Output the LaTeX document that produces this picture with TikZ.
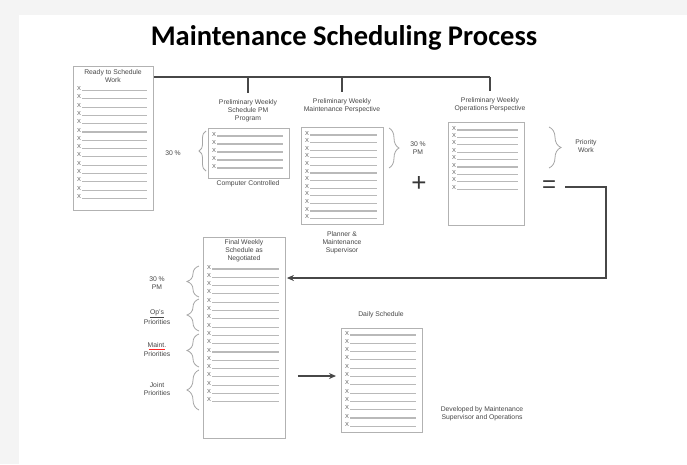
\documentclass[tikz,border=0pt]{standalone}
\usepackage{fontspec}
\setmainfont{Liberation Sans}
\newfontfamily\titlefont{Carlito}
\usetikzlibrary{decorations.pathreplacing,arrows.meta}
\tikzset{
  sheet/.style={draw=gray!60, line width=0.9pt, fill=white, inner sep=0pt, anchor=north west},
  lbl/.style={font=\fontsize{6.8}{7.9}\selectfont, text=black!72, align=center, inner sep=0pt},
  xrow/.style={draw=gray!55, line width=1.1pt},
  xmark/.style={font=\fontsize{5.8}{6}\selectfont, text=black!65, inner sep=0pt, anchor=base west},
  link/.style={draw=black!72, line width=1.8pt},
  curly/.style={draw=gray!70, line width=0.8pt, decorate, decoration={brace, amplitude=#1}},
  curly/.default=7pt,
  sym/.style={inner sep=0pt, text=black!78}
}
\newcommand\xrows[5]{%
  \foreach \i in {1,...,#5}{%
    \pgfmathsetmacro\yy{#3+(\i-1)*#4}
    \node[xmark] at (#1+4,\yy) {X};
    \draw[xrow] (#1+9,\yy) -- (#2-6,\yy);
  }}
\begin{document}
\begin{tikzpicture}[x=1pt,y=-1pt]
\useasboundingbox (0,0) rectangle (687,464);
\fill[gray!9] (0,0) rectangle (687,464);
\fill[white] (19,15) rectangle (687,464);

% title
\node[inner sep=0pt, font=\titlefont\bfseries\fontsize{28.5}{30}\selectfont] (title) at (344,38) {Maintenance Scheduling Process};

% box 1
\node[sheet, minimum width=80pt, minimum height=144pt] (b1) at (73,66) {};
\node[lbl] (t1) at (113,76) {Ready to Schedule\\Work};
\xrows{73}{153}{90.5}{8.3}{14}

% box 2
\node[sheet, minimum width=81pt, minimum height=50pt] (b2) at (208,128) {};
\node[lbl] (t2) at (248,111) {Preliminary Weekly\\Schedule PM\\Program};
\node[lbl] (s2) at (248,184) {Computer Controlled};
\xrows{208}{289}{136}{8}{5}
\node[lbl] (p2) at (173,153) {30 \%};
\draw[curly=7pt] (206,171) -- (206,131);

% box 3
\node[sheet, minimum width=82pt, minimum height=97pt] (b3) at (301,127) {};
\node[lbl] (t3) at (342,106) {Preliminary Weekly\\Maintenance Perspective};
\node[lbl] (s3) at (342,243) {Planner \&\\Maintenance\\Supervisor};
\xrows{301}{383}{135}{7.6}{12}
\draw[curly=10pt] (389,128) -- (389,168);
\node[lbl] (p3) at (418,148) {30 \%\\PM};
\node[sym, font=\fontsize{26}{26}\selectfont] (plus) at (419,184) {+};

% box 4
\node[sheet, minimum width=76pt, minimum height=103pt] (b4) at (448,122) {};
\node[lbl] (t4) at (490,105) {Preliminary Weekly\\Operations Perspective};
\xrows{448}{524}{130}{7.4}{9}
\draw[curly=12pt] (549,127) -- (549,168);
\node[lbl] (p4) at (586,146) {Priority\\Work};
\node[sym, font=\fontsize{24}{24}\selectfont] (eq) at (549,187) {=};

% box 5
\node[sheet, minimum width=82pt, minimum height=201pt] (b5) at (203,237) {};
\node[lbl] (t5) at (244,251) {Final Weekly\\Schedule as\\Negotiated};
\xrows{203}{285}{269}{8.3}{17}
\draw[curly=12pt] (199,297) -- (199,266);
\draw[curly=12pt] (199,331) -- (199,299);
\draw[curly=12pt] (199,367) -- (199,334);
\draw[curly=12pt] (199,410) -- (199,370);
\node[lbl] (g1) at (157,283) {30 \%\\PM};
\node[lbl] (g2) at (157,317) {\underline{Op's}\\[1pt]Priorities};
\node[lbl] (g3) at (157,350) {Maint.\\[1pt]Priorities};
\draw[red!85, line width=0.7pt] ([xshift=5pt,yshift=-6.2pt]g3.north west) -- ([xshift=-5pt,yshift=-6.2pt]g3.north east);
\node[lbl] (g4) at (157,389) {Joint\\Priorities};

% box 6
\node[sheet, minimum width=81pt, minimum height=104pt] (b6) at (341,328) {};
\node[lbl] (t6) at (381,315) {Daily Schedule};
\xrows{341}{422}{335}{8.3}{12}
\node[lbl] (d6) at (482,414) {Developed by Maintenance\\Supervisor and Operations};

% connector tree
\coordinate (j1) at (490,77);
\draw[link] (b1.east |- j1) -- (t4.north |- j1);
\draw[link, shorten >=7pt] (t2.north |- j1) -- (t2.north);
\draw[link, shorten >=7pt] (t3.north |- j1) -- (t3.north);
\draw[link, shorten >=7pt] (t4.north |- j1) -- (t4.north);

% feedback arrow
\coordinate (c1) at (606,187);
\coordinate (c2) at (606,278);
\draw[link, line join=miter, -{Stealth[length=7pt,width=6pt]}, shorten >=1pt] (eq.east) ++(9,0) -- (c1) -- (c2) -- (b5.east |- c2);

% arrow to daily
\coordinate (ar) at (300,376);
\draw[link, -{Stealth[length=7pt,width=6pt]}, shorten <=12pt, shorten >=5pt] (b5.east |- ar) -- (b6.west |- ar);
\end{tikzpicture}
\end{document}
